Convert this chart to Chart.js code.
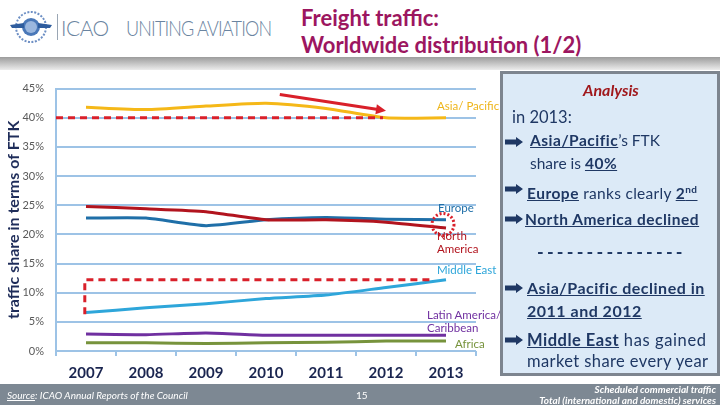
<!DOCTYPE html>
<html>
<head>
<meta charset="utf-8">
<script src="https://cdn.jsdelivr.net/npm/chart.js@4/dist/chart.umd.min.js"></script>
<style>
  body { margin: 0; width: 720px; height: 405px; overflow: hidden; background: #fff; font-family: Lato, "Open Sans", sans-serif; position: relative; }
  .abs { position: absolute; white-space: nowrap; }
  #band { position: absolute; left: 0; top: 57px; width: 720px; height: 13px; background: linear-gradient(#9c9c9c, #ececec); }
  #chartBox { position: absolute; left: 0; top: 70px; width: 490px; height: 315px; }
  .title { color: #9c1660; font-weight: bold; font-size: 22px; left: 301px; }
  .icao { color: #6a84a0; font-weight: 300; font-size: 21px; top: 15px; letter-spacing: -0.5px; transform-origin: left center; }
  .lbl { font-size: 11.5px; line-height: 13px; }
  #panel { position: absolute; left: 500px; top: 71px; width: 214px; height: 299px; background: #dceaf7; border: 3px solid #7d858f; }
  .pt { position: absolute; color: #1f3864; font-size: 15.5px; line-height: 18px; white-space: nowrap; }
  .u { text-decoration: underline; font-weight: bold; letter-spacing: 0.5px; }
  .arr { position: absolute; width: 18px; height: 10px; }
  #footer { position: absolute; left: 0; top: 384px; width: 720px; height: 21px; background: #7d8893; }
  .ft { color: #fff; font-style: italic; font-size: 10px; line-height: 11px; }
</style>
</head>
<body>
<!-- header -->
<svg class="abs" style="left:8px;top:8px" width="46" height="38" viewBox="0 0 46 38">
  <circle cx="23" cy="19" r="15" fill="none" stroke="#6d8fc4" stroke-width="2" stroke-dasharray="2 1.5"/>
  <circle cx="23" cy="19" r="9" fill="#4a78b8"/>
  <circle cx="23" cy="19" r="6" fill="#9bb7de"/>
  <path d="M2 17 L16 15 L16 20 L4 20 Z M44 17 L30 15 L30 20 L42 20 Z" fill="#2f5d9e"/>
</svg>
<div class="abs" style="left:57px;top:14px;width:1px;height:26px;background:#9aa6b4"></div>
<div class="abs icao" style="left:61px">ICAO</div>
<div class="abs icao" style="left:126px;letter-spacing:-1px;transform:scaleX(0.86)">UNITING AVIATION</div>
<div class="abs title" style="top:4px">Freight traffic:</div>
<div class="abs title" style="top:31px">Worldwide distribution (1/2)</div>
<div id="band"></div>

<div id="chartBox"><canvas id="freightChart"></canvas></div>

<!-- series labels -->
<div class="abs lbl" style="left:437px;top:99px;color:#eeb51a">Asia/ Pacific</div>
<div class="abs lbl" style="left:438px;top:201px;color:#1f6fa8">Europe</div>
<div class="abs lbl" style="left:437px;top:229px;color:#b2141e">North<br>America</div>
<div class="abs lbl" style="left:437px;top:263px;color:#2ea6da">Middle East</div>
<div class="abs lbl" style="left:427px;top:308px;color:#7030a0">Latin America/<br>Caribbean</div>
<div class="abs lbl" style="left:455px;top:337px;color:#77933c">Africa</div>

<!-- analysis panel -->
<div id="panel"></div>
<div class="pt" style="left:583px;top:81px;color:#a0181c;font-weight:bold;font-style:italic;font-size:16px">Analysis</div>
<div class="pt" style="left:512px;top:108px;font-size:16.5px">in 2013:</div>
<svg class="arr" style="left:505px;top:137px" viewBox="0 0 18 10"><path d="M0 2.5 H11 V0 L18 5 L11 10 V7.5 H0 Z" fill="#1f3864"/></svg>
<div class="pt" style="left:530px;top:131px"><span class="u">Asia/Pacific</span>’s FTK</div>
<div class="pt" style="left:530px;top:154px">share is <span class="u">40%</span></div>
<svg class="arr" style="left:505px;top:184px" viewBox="0 0 18 10"><path d="M0 2.5 H11 V0 L18 5 L11 10 V7.5 H0 Z" fill="#1f3864"/></svg>
<div class="pt" style="left:527px;top:180px;letter-spacing:0.3px"><span class="u">Europe</span> ranks clearly <span class="u">2<sup style="font-size:10px">nd</sup></span></div>
<svg class="arr" style="left:505px;top:214px" viewBox="0 0 18 10"><path d="M0 2.5 H11 V0 L18 5 L11 10 V7.5 H0 Z" fill="#1f3864"/></svg>
<div class="pt" style="left:525px;top:210px"><span class="u">North America declined</span></div>
<div class="pt" style="left:537px;top:243px;font-weight:bold;font-size:18px;letter-spacing:3.2px">---------------</div>
<svg class="arr" style="left:505px;top:283px" viewBox="0 0 18 10"><path d="M0 2.5 H11 V0 L18 5 L11 10 V7.5 H0 Z" fill="#1f3864"/></svg>
<div class="pt" style="left:527px;top:279px;font-size:16px"><span class="u">Asia/Pacific declined in</span></div>
<div class="pt" style="left:527px;top:302px;font-size:16px"><span class="u">2011 and 2012</span></div>
<svg class="arr" style="left:505px;top:335px" viewBox="0 0 18 10"><path d="M0 2.5 H11 V0 L18 5 L11 10 V7.5 H0 Z" fill="#1f3864"/></svg>
<div class="pt" style="left:527px;top:331px;font-size:16.5px;letter-spacing:0.6px"><span class="u">Middle East</span> has gained</div>
<div class="pt" style="left:527px;top:352px;font-size:16.5px;letter-spacing:0.4px">market share every year</div>

<!-- footer -->
<div id="footer"></div>
<div class="abs ft" style="left:7px;top:390px"><u>Source</u>: ICAO Annual Reports of the Council</div>
<div class="abs ft" style="left:356px;top:390px;font-style:normal">15</div>
<div class="abs ft" style="right:4px;top:384px;text-align:right;font-weight:bold">Scheduled commercial traffic<br>Total (international and domestic) services</div>

<script>
// FTK share by region, %
const years = ["2007", "2008", "2009", "2010", "2011", "2012", "2013"];
const asiaPacific  = [41.8, 41.4, 42.0, 42.5, 41.6, 40.0, 40.0];
const europe       = [22.8, 22.8, 21.5, 22.5, 22.9, 22.6, 22.5];
const northAmerica = [24.8, 24.4, 23.9, 22.5, 22.5, 22.1, 21.1];
const middleEast   = [6.6, 7.4, 8.1, 9.0, 9.6, 10.9, 12.2];
const latinAmerica = [2.9, 2.8, 3.1, 2.7, 2.7, 2.7, 2.7];
const africa       = [1.4, 1.4, 1.3, 1.4, 1.5, 1.7, 1.7];
const yTicks = [0, 5, 10, 15, 20, 25, 30, 35, 40, 45];

const gridBlue = "#9dc3e6";
const red = "#d9202a";

// 注記（赤い点線・矢印・枠・丸）
const notes = {
  id: "notes",
  afterDatasetsDraw(chart) {
    const c = chart.ctx;
    const x = chart.scales.x, y = chart.scales.y;
    c.save();
    c.strokeStyle = red;
    c.fillStyle = red;
    c.lineWidth = 3;

    // 40% dashed line
    c.setLineDash([7, 5]);
    c.beginPath();
    c.moveTo(chart.chartArea.left, y.getPixelForValue(40));
    c.lineTo(x.getPixelForValue(4.95), y.getPixelForValue(40));
    c.stroke();

    // dashed box round Middle East
    c.beginPath();
    c.moveTo(x.getPixelForValue(-0.02), y.getPixelForValue(6.3));
    c.lineTo(x.getPixelForValue(-0.02), y.getPixelForValue(12.2));
    c.lineTo(x.getPixelForValue(5.8), y.getPixelForValue(12.2));
    c.stroke();

    // dotted circle at 2013 Europe / North America
    c.setLineDash([2, 2]);
    c.beginPath();
    c.arc(x.getPixelForValue(5.95), y.getPixelForValue(21.7), 11, 0, Math.PI * 2);
    c.stroke();

    // arrow showing the decline
    c.setLineDash([]);
    const x0 = x.getPixelForValue(3.23), y0 = y.getPixelForValue(44.0);
    const x1 = x.getPixelForValue(5.0), y1 = y.getPixelForValue(41.2);
    const a = Math.atan2(y1 - y0, x1 - x0);
    c.beginPath();
    c.moveTo(x0, y0);
    c.lineTo(x1 - 8 * Math.cos(a), y1 - 8 * Math.sin(a));
    c.stroke();
    c.beginPath();
    c.moveTo(x1, y1);
    c.lineTo(x1 - 10 * Math.cos(a) + 5 * Math.sin(a), y1 - 10 * Math.sin(a) - 5 * Math.cos(a));
    c.lineTo(x1 - 10 * Math.cos(a) - 5 * Math.sin(a), y1 - 10 * Math.sin(a) + 5 * Math.cos(a));
    c.closePath();
    c.fill();
    c.restore();
  }
};

function line(label, data, color) {
  return { label, data, borderColor: color, backgroundColor: color, borderWidth: 3, pointRadius: 0, tension: 0.2 };
}

new Chart(document.getElementById("freightChart"), {
  type: "line",
  data: {
    labels: years,
    datasets: [
      line("Asia/Pacific", asiaPacific, "#f5b818"),
      line("North America", northAmerica, "#b2141e"),
      line("Europe", europe, "#1f6fa8"),
      line("Middle East", middleEast, "#2ea6da"),
      line("Latin America/Caribbean", latinAmerica, "#7030a0"),
      line("Africa", africa, "#77933c")
    ]
  },
  options: {
    responsive: true,
    maintainAspectRatio: false,
    animation: false,
    layout: { padding: { top: 13, right: 14, left: 0, bottom: 0 } },
    plugins: { legend: { display: false }, tooltip: { enabled: false } },
    scales: {
      x: {
        offset: true,
        grid: { offset: true, drawOnChartArea: false, drawTicks: true, tickLength: 5, color: gridBlue, lineWidth: 2 },
        border: { display: false },
        ticks: { color: "#1a2550", font: { family: "Lato", size: 15, weight: "bold" }, padding: 8 },
        afterFit: s => { s.height = 34; }
      },
      y: {
        min: 0,
        max: 45,
        afterBuildTicks: s => { s.ticks = yTicks.map(v => ({ value: v })); },
        grid: { color: gridBlue, lineWidth: 2, drawTicks: false },
        border: { color: gridBlue, width: 2 },
        ticks: { color: "#595959", font: { family: "Lato", size: 11 }, padding: 12, callback: v => v + "%" },
        title: { display: true, text: "traffic share in terms of FTK", color: "#1f2d5a", font: { family: "Lato", size: 16, weight: "bold" }, padding: { top: 4, bottom: 0 } },
        afterFit: s => { s.width = 56; }
      }
    }
  },
  plugins: [notes]
});
</script>
</body>
</html>
